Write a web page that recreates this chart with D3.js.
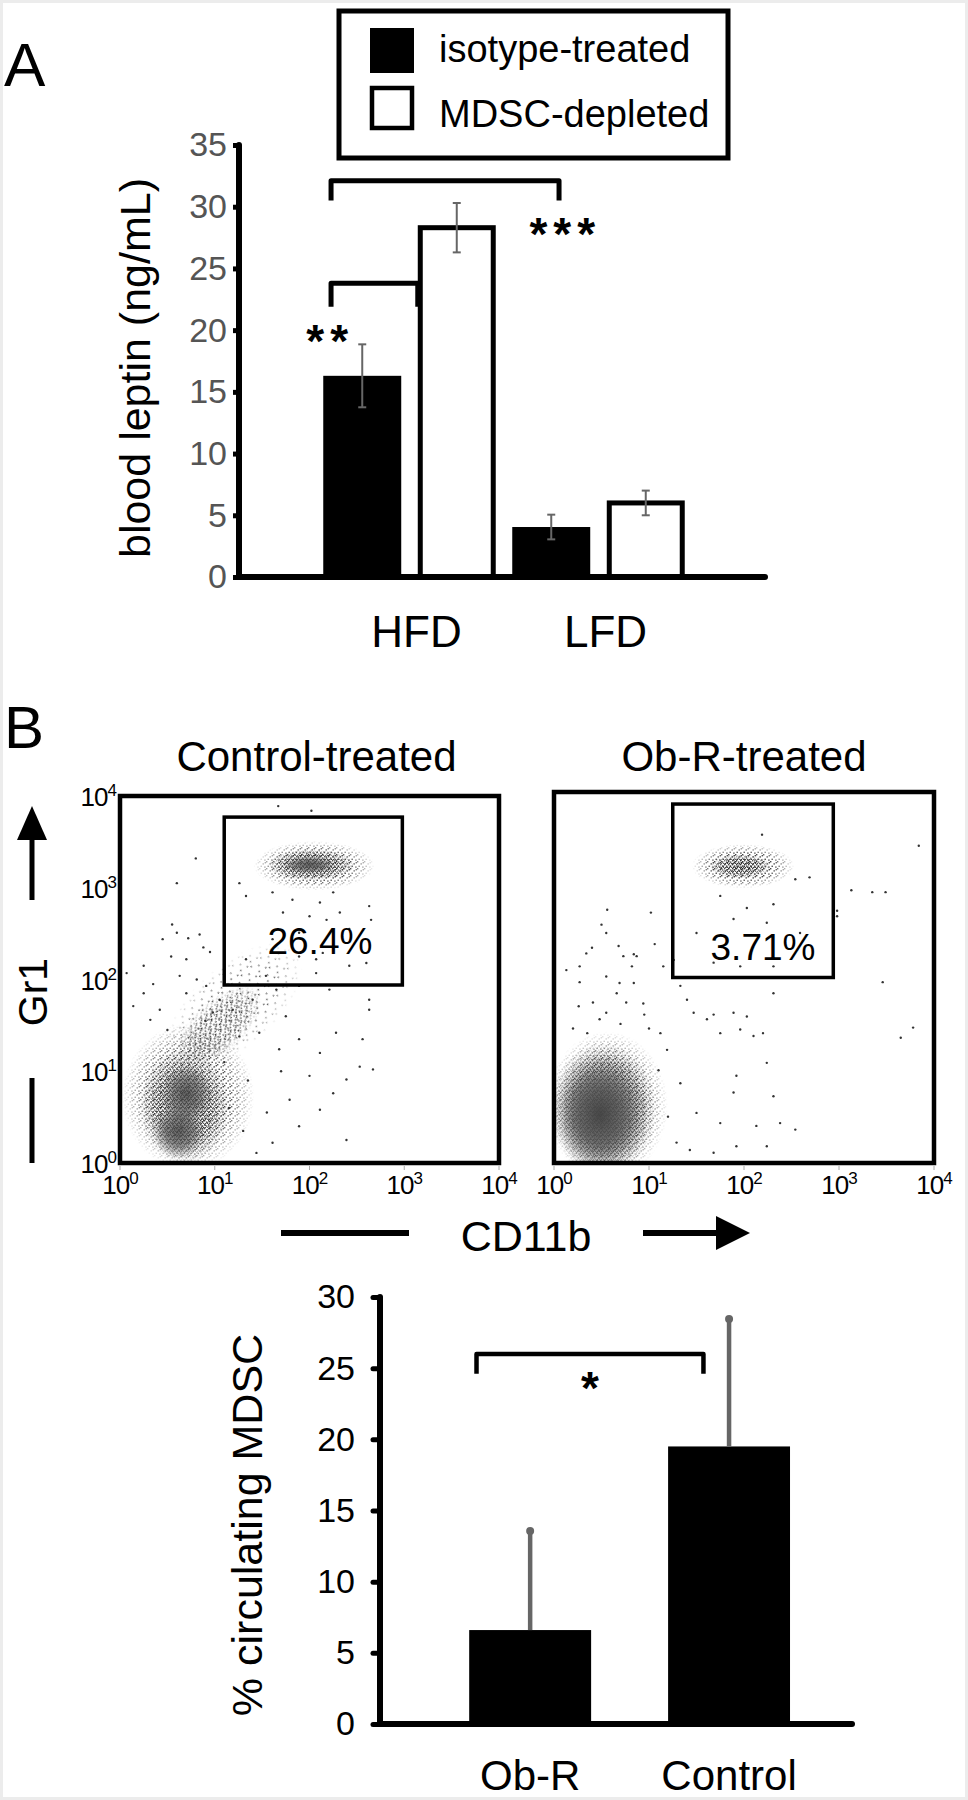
<!DOCTYPE html>
<html>
<head>
<meta charset="utf-8">
<script src="https://d3js.org/d3.v7.min.js"></script>
<style>
  body { margin: 0; background: #fff; }
  text { font-family: "Liberation Sans", Arial, sans-serif; }
</style>
</head>
<body>
<svg id="fig" width="968" height="1800"></svg>
<script>
// ---------- panel A: blood leptin ----------
var dietGroups = ["HFD", "LFD"];
var treatments = ["isotype-treated", "MDSC-depleted"];
var leptinMeans = [[16.3, 28.3], [4.05, 6.0]];
var leptinErrors = [[2.55, 2.0], [1.0, 1.0]];
var leptinTicks = [0, 5, 10, 15, 20, 25, 30, 35];
// [from bar, fraction in bar, to bar, fraction, top value, leg value]
var leptinBrackets = [[0, 0.1, 2, 0.6, 32.1, 30.5], [0, 0.1, 1, 0.0, 23.8, 21.9]];
// [label, bar, fraction, value]
var leptinStars = [["**", 0, 0.09, 20.0], ["***", 2, 0.68, 28.7]];

// ---------- panel B: flow plots (log10 units) ----------
var flowTitles = ["Control-treated", "Ob-R-treated"];
var gatePercent = ["26.4%", "3.71%"];
var gatePercentAt = [[2.11, 2.42], [2.2, 2.33]];
var decades = [0, 1, 2, 3, 4];
// gate [x0, x1, y0, y1]
var gates = [[1.1, 2.98, 1.94, 3.77], [1.25, 2.94, 2.0, 3.87]];
// clusters [cx, cy, rx, ry, level, tilt]  level 0 faint, 1 sparse, 2 dense, 3 core
var controlClusters = [
  [0.72, 0.72, 0.7, 0.8, 1, 0], [0.68, 0.62, 0.47, 0.62, 2, 0],
  [0.7, 0.75, 0.27, 0.32, 3, 0], [0.62, 0.35, 0.27, 0.3, 3, 0],
  [1.2, 1.7, 0.9, 0.45, 0, 42], [1.05, 1.5, 0.55, 0.28, 1, 42],
  [2.05, 3.24, 0.64, 0.27, 1, 0], [2.02, 3.25, 0.46, 0.17, 2, 0], [2.0, 3.25, 0.28, 0.1, 3, 0]
];
var obrClusters = [
  [0.56, 0.62, 0.64, 0.8, 1, 0], [0.52, 0.58, 0.56, 0.71, 2, 0],
  [0.5, 0.55, 0.5, 0.64, 3, 0], [0.48, 0.52, 0.4, 0.52, 3, 0],
  [1.99, 3.2, 0.54, 0.24, 1, 0], [1.96, 3.2, 0.32, 0.13, 2, 0]
];
var controlDots = [
  [1.67, 3.89], [2.02, 3.84], [0.8, 3.32], [0.6, 3.05], [1.26, 3.05], [1.33, 2.91], [0.45, 2.44],
  [0.6, 2.51], [0.84, 2.49], [0.72, 2.45], [0.88, 2.35], [0.54, 2.25], [0.7, 2.22], [0.25, 2.15],
  [0.07, 2.07], [0.63, 2.04], [0.81, 2.0], [0.25, 1.85], [0.14, 1.71], [0.42, 1.67], [0.32, 1.56],
  [0.7, 1.85], [0.91, 1.93], [1.05, 1.78], [0.98, 1.64], [1.19, 1.67], [1.4, 1.78], [1.54, 2.04],
  [1.65, 1.89], [1.89, 1.93], [2.07, 2.07], [2.21, 1.89], [2.42, 2.15], [2.63, 1.78], [2.63, 1.67],
  [1.26, 1.38], [1.47, 1.42], [1.68, 1.24], [1.89, 1.35], [2.11, 1.2], [2.28, 1.42], [2.39, 0.91],
  [2.53, 1.05], [2.67, 1.02], [2.25, 0.76], [2.11, 0.58], [1.89, 0.4], [2.39, 0.25], [1.61, 0.22],
  [1.44, 0.11], [1.79, 0.69], [2.56, 1.35], [1.33, 2.22], [1.61, 2.44], [2.65, 2.65], [2.63, 2.8],
  [2.32, 2.73], [2.07, 2.22], [2.6, 2.18], [1.61, 2.95], [1.82, 2.87], [2.11, 2.84], [2.25, 2.95],
  [1.72, 2.73], [2.0, 2.69], [2.18, 2.65], [1.89, 2.51], [2.42, 2.55], [1.61, 2.29], [1.89, 2.25],
  [2.14, 2.29], [0.55, 2.6], [0.95, 2.3], [0.35, 1.95], [0.5, 1.45], [1.1, 1.1], [1.35, 0.9],
  [1.55, 0.55], [1.7, 1.0], [2.0, 0.95], [1.3, 0.35], [1.15, 0.6], [0.9, 1.55], [1.75, 1.6]
];
var obrDots = [
  [2.19, 3.54], [3.84, 3.42], [3.13, 2.94], [3.35, 2.92], [3.49, 2.92], [2.98, 2.72], [2.98, 2.66],
  [2.69, 3.08], [2.54, 3.06], [0.56, 2.73], [1.02, 2.7], [0.55, 2.48], [0.5, 2.57], [1.06, 2.36],
  [0.4, 2.32], [0.34, 2.26], [0.13, 2.08], [0.27, 2.12], [0.68, 2.34], [0.73, 2.23], [0.84, 2.25],
  [0.87, 2.23], [0.82, 2.12], [0.27, 1.95], [0.55, 2.01], [0.69, 1.94], [0.66, 1.83], [0.84, 1.94],
  [0.76, 1.73], [0.94, 1.72], [0.41, 1.73], [0.26, 1.69], [0.48, 1.55], [0.55, 1.62], [1.15, 2.12],
  [1.26, 2.19], [1.33, 1.91], [1.4, 1.76], [1.47, 1.62], [1.61, 1.55], [1.68, 1.6], [1.75, 1.4],
  [1.89, 1.62], [1.96, 1.44], [2.03, 1.58], [2.2, 1.4], [2.31, 1.83], [2.1, 1.37], [2.24, 1.08],
  [1.92, 0.94], [1.89, 0.76], [1.75, 0.43], [2.13, 0.4], [2.31, 0.72], [2.38, 0.43], [2.54, 0.36],
  [2.24, 0.18], [1.92, 0.18], [1.68, 0.11], [1.43, 0.14], [1.29, 0.22], [3.46, 1.95], [3.78, 1.46],
  [3.65, 1.35], [1.12, 1.4], [1.19, 1.22], [1.33, 0.86], [1.5, 0.54], [1.75, 2.88], [2.03, 2.75],
  [2.31, 2.79], [1.89, 2.63], [2.24, 2.59], [1.5, 2.48], [2.59, 2.48], [1.68, 2.16], [1.96, 2.12],
  [2.31, 2.12], [0.2, 1.45], [0.7, 1.5], [1.0, 1.45], [1.1, 1.0], [1.2, 0.5], [0.95, 1.6], [0.35, 1.4]
];

// ---------- panel B: circulating MDSC ----------
var mdscGroups = ["Ob-R", "Control"];
var mdscMeans = [6.6, 19.5];
var mdscErrors = [6.96, 8.96];
var mdscTicks = [0, 5, 10, 15, 20, 25, 30];

var svg = d3.select("#fig");
var defs = svg.append("defs");

svg.append("rect").attr("width", 968).attr("height", 1800).attr("fill", "#fff")
  .attr("stroke", "#ececec").attr("stroke-width", 6);

// ===== Panel A =====
svg.append("text").attr("x", 4).attr("y", 86).style("font-size", "62px").text("A");

var yA = d3.scaleLinear().domain([0, 35]).range([577, 145]);
var x0A = d3.scaleBand().domain(dietGroups).range([315, 693]);
var x1A = d3.scaleBand().domain(treatments).range([0, x0A.bandwidth()])
  .paddingInner(0.175).paddingOuter(0.0873);

var bars = [];
dietGroups.forEach(function(g, gi) {
  treatments.forEach(function(t, ti) {
    bars.push({g: g, t: t, ti: ti, v: leptinMeans[gi][ti], e: leptinErrors[gi][ti],
      x: x0A(g) + x1A(t)});
  });
});
var bw = x1A.bandwidth();
function barX(i, f) { return bars[i].x + f * bw; }

var gA = svg.append("g");
gA.selectAll("rect.bar").data(bars).enter().append("rect")
  .attr("x", function(d) { return d.ti ? d.x + 2.5 : d.x; })
  .attr("y", function(d) { return yA(d.v); })
  .attr("width", function(d) { return d.ti ? bw - 5 : bw; })
  .attr("height", function(d) { return yA(0) - yA(d.v); })
  .attr("fill", function(d) { return d.ti ? "#fff" : "#000"; })
  .attr("stroke", function(d) { return d.ti ? "#000" : "none"; })
  .attr("stroke-width", 5);

var eb = gA.selectAll("g.err").data(bars).enter().append("g").attr("stroke", "#666").attr("stroke-width", 2);
eb.append("line")
  .attr("x1", function(d) { return d.x + bw / 2; }).attr("x2", function(d) { return d.x + bw / 2; })
  .attr("y1", function(d) { return yA(d.v - d.e); }).attr("y2", function(d) { return yA(d.v + d.e); });
[-1, 1].forEach(function(s) {
  eb.append("line")
    .attr("x1", function(d) { return d.x + bw / 2 - 4; }).attr("x2", function(d) { return d.x + bw / 2 + 4; })
    .attr("y1", function(d) { return yA(d.v + s * d.e); }).attr("y2", function(d) { return yA(d.v + s * d.e); });
});

// axis A
var axA = svg.append("g").attr("transform", "translate(239,0)")
  .call(d3.axisLeft(yA).tickValues(leptinTicks).tickSize(6).tickSizeOuter(0).tickPadding(6));
axA.select(".domain").remove();
axA.selectAll(".tick line").attr("stroke", "#000").attr("stroke-width", 5);
axA.selectAll(".tick text").attr("fill", "#555").style("font-size", "34px");
svg.append("line").attr("x1", 239).attr("x2", 239).attr("y1", yA(35)).attr("y2", yA(0))
  .attr("stroke", "#000").attr("stroke-width", 6).attr("stroke-linecap", "round");
svg.append("line").attr("x1", 239).attr("x2", 765).attr("y1", yA(0)).attr("y2", yA(0))
  .attr("stroke", "#000").attr("stroke-width", 6).attr("stroke-linecap", "round");

svg.selectAll("text.diet").data(dietGroups).enter().append("text")
  .attr("x", function(d) { return x0A(d) + x0A.bandwidth() / 2 + 7; })
  .attr("y", 647).attr("text-anchor", "middle").style("font-size", "44px").text(function(d) { return d; });

svg.append("text").attr("transform", "translate(150,368) rotate(-90)")
  .attr("text-anchor", "middle").style("font-size", "43px").text("blood leptin (ng/mL)");

// brackets and stars
svg.selectAll("path.brA").data(leptinBrackets).enter().append("path")
  .attr("d", function(b) {
    var xa = barX(b[0], b[1]), xb = barX(b[2], b[3]);
    return "M" + xa + "," + yA(b[5]) + "V" + yA(b[4]) + "H" + xb + "V" + yA(b[5]);
  })
  .attr("fill", "none").attr("stroke", "#000").attr("stroke-width", 5).attr("stroke-linejoin", "round");
svg.selectAll("text.starA").data(leptinStars).enter().append("text")
  .attr("x", function(s) { return barX(s[1], s[2]); })
  .attr("y", function(s) { return yA(s[3]) + 27; })
  .attr("text-anchor", "middle").style("font-size", "46px").style("font-weight", "bold")
  .style("letter-spacing", "6px").text(function(s) { return s[0]; });

// legend
var leg = svg.append("g");
leg.append("rect").attr("x", 339).attr("y", 11).attr("width", 389).attr("height", 147)
  .attr("fill", "#fff").attr("stroke", "#000").attr("stroke-width", 5);
treatments.forEach(function(t, i) {
  leg.append("rect").attr("x", i ? 372 : 370).attr("y", i ? 88 : 28)
    .attr("width", i ? 40 : 44).attr("height", i ? 40 : 45)
    .attr("fill", i ? "#fff" : "#000").attr("stroke", i ? "#000" : "none").attr("stroke-width", 4.5);
  leg.append("text").attr("x", 439).attr("y", i ? 127 : 62).style("font-size", "38px").text(t);
});

// ===== Panel B: flow plots =====
svg.append("text").attr("x", 4).attr("y", 748).style("font-size", "60px").text("B");

// speckle fills and fades for dense populations
var fade = defs.append("radialGradient").attr("id", "fadeGrad");
fade.append("stop").attr("offset", "0%").attr("stop-color", "#fff");
fade.append("stop").attr("offset", "60%").attr("stop-color", "#fff").attr("stop-opacity", 0.85);
fade.append("stop").attr("offset", "100%").attr("stop-color", "#fff").attr("stop-opacity", 0);
defs.append("mask").attr("id", "fadeMask").attr("maskContentUnits", "objectBoundingBox")
  .append("rect").attr("width", 1).attr("height", 1).attr("fill", "url(#fadeGrad)");
function speckle(id, size, spots) {
  var p = defs.append("pattern").attr("id", id).attr("patternUnits", "userSpaceOnUse")
    .attr("width", size).attr("height", size);
  spots.forEach(function(s) {
    p.append("rect").attr("x", s[0]).attr("y", s[1]).attr("width", 1.4).attr("height", 1.4).attr("fill", "#2a2a2a");
  });
}
speckle("speckleFaint", 13, [[0, 0], [6.5, 4.2], [2.8, 8.9], [10.1, 10.6]]);
speckle("speckleLight", 7, [[0, 0], [3.5, 2.2], [1.5, 4.6], [5.2, 5.4], [5.6, 1.0]]);
speckle("speckleDense", 4, [[0, 0], [2, 1.4], [0.7, 2.9], [2.9, 3.1]]);
var core = defs.append("radialGradient").attr("id", "coreGrad");
core.append("stop").attr("offset", "0%").attr("stop-color", "#444").attr("stop-opacity", 0.85);
core.append("stop").attr("offset", "55%").attr("stop-color", "#555").attr("stop-opacity", 0.6);
core.append("stop").attr("offset", "100%").attr("stop-color", "#666").attr("stop-opacity", 0);
var fills = ["url(#speckleFaint)", "url(#speckleLight)", "url(#speckleDense)", "url(#coreGrad)"];

var frames = [{x: 120, y: 796, w: 379, h: 367}, {x: 554, y: 792, w: 380, h: 371}];
var allClusters = [controlClusters, obrClusters];
var allDots = [controlDots, obrDots];

frames.forEach(function(f, k) {
  var xs = d3.scaleLinear().domain([0, 4]).range([f.x, f.x + f.w]);
  var ys = d3.scaleLinear().domain([0, 4]).range([f.y + f.h, f.y]);
  var g = svg.append("g");
  defs.append("clipPath").attr("id", "clip" + k).append("rect")
    .attr("x", f.x).attr("y", f.y).attr("width", f.w).attr("height", f.h);
  var pts = g.append("g").attr("clip-path", "url(#clip" + k + ")");

  pts.selectAll("ellipse").data(allClusters[k]).enter().append("ellipse")
    .attr("cx", function(c) { return xs(c[0]); }).attr("cy", function(c) { return ys(c[1]); })
    .attr("rx", function(c) { return xs(c[2]) - xs(0); }).attr("ry", function(c) { return ys(0) - ys(c[3]); })
    .attr("transform", function(c) { return "rotate(" + (-c[5]) + "," + xs(c[0]) + "," + ys(c[1]) + ")"; })
    .attr("fill", function(c) { return fills[c[4]]; })
    .attr("mask", function(c) { return c[4] === 3 ? null : "url(#fadeMask)"; });

  pts.selectAll("circle").data(allDots[k]).enter().append("circle")
    .attr("cx", function(d) { return xs(d[0]); }).attr("cy", function(d) { return ys(d[1]); })
    .attr("r", 1.2).attr("fill", "#333");

  // gate
  var gt = gates[k];
  g.append("rect").attr("x", xs(gt[0])).attr("y", ys(gt[3]))
    .attr("width", xs(gt[1]) - xs(gt[0])).attr("height", ys(gt[2]) - ys(gt[3]))
    .attr("fill", "none").attr("stroke", "#000").attr("stroke-width", 3.5);
  g.append("text").attr("x", xs(gatePercentAt[k][0])).attr("y", ys(gatePercentAt[k][1]) + 13)
    .attr("text-anchor", "middle").style("font-size", "37px").text(gatePercent[k]);

  // frame
  g.append("rect").attr("x", f.x).attr("y", f.y).attr("width", f.w).attr("height", f.h)
    .attr("fill", "none").attr("stroke", "#000").attr("stroke-width", 4.5);

  // small decade ticks on the x side
  g.selectAll("line.dt").data(decades).enter().append("line")
    .attr("x1", function(d) { return xs(d); }).attr("x2", function(d) { return xs(d); })
    .attr("y1", f.y + f.h + 3).attr("y2", f.y + f.h + 7).attr("stroke", "#aaa").attr("stroke-width", 1);

  var xl = g.selectAll("text.xt").data(decades).enter().append("text")
    .attr("x", function(d) { return xs(d); }).attr("y", 1194)
    .attr("text-anchor", "middle").style("font-size", "26px").style("letter-spacing", "-1px");
  xl.append("tspan").text("10");
  xl.append("tspan").attr("dy", -10).style("font-size", "17px").text(function(d) { return d; });

  if (k === 0) {
    var yl = g.selectAll("text.yt").data(decades).enter().append("text")
      .attr("x", 116).attr("y", function(d) { return ys(d) + 10; })
      .attr("text-anchor", "end").style("font-size", "26px").style("letter-spacing", "-1px");
    yl.append("tspan").text("10");
    yl.append("tspan").attr("dy", -10).style("font-size", "17px").text(function(d) { return d; });
  }

  svg.append("text").attr("x", f.x + f.w / 2 + (k ? 0 : 7)).attr("y", 771)
    .attr("text-anchor", "middle").style("font-size", "42px").text(flowTitles[k]);
});

// Gr1 and CD11b arrows
svg.append("line").attr("x1", 32).attr("x2", 32).attr("y1", 838).attr("y2", 900)
  .attr("stroke", "#000").attr("stroke-width", 5);
svg.append("path").attr("d", "M17,840 L32,806 L47,840 Z").attr("fill", "#000");
svg.append("line").attr("x1", 32).attr("x2", 32).attr("y1", 1078).attr("y2", 1163)
  .attr("stroke", "#000").attr("stroke-width", 5);
svg.append("text").attr("transform", "translate(47,992) rotate(-90)")
  .attr("text-anchor", "middle").style("font-size", "41px").text("Gr1");

svg.append("line").attr("x1", 281).attr("x2", 409).attr("y1", 1233).attr("y2", 1233)
  .attr("stroke", "#000").attr("stroke-width", 6);
svg.append("line").attr("x1", 643).attr("x2", 718).attr("y1", 1233).attr("y2", 1233)
  .attr("stroke", "#000").attr("stroke-width", 6);
svg.append("path").attr("d", "M716,1216 L750,1233 L716,1250 Z").attr("fill", "#000");
svg.append("text").attr("x", 526).attr("y", 1251).attr("text-anchor", "middle")
  .style("font-size", "43px").text("CD11b");

// ===== Panel B: MDSC bars =====
var yB = d3.scaleLinear().domain([0, 30]).range([1724, 1297]);
var xB = d3.scaleBand().domain(mdscGroups).range([380, 852])
  .paddingInner(0.387).paddingOuter(0.38).align(0.59);

svg.selectAll("rect.mb").data(mdscGroups).enter().append("rect")
  .attr("x", function(d) { return xB(d); })
  .attr("y", function(d, i) { return yB(mdscMeans[i]); })
  .attr("width", xB.bandwidth())
  .attr("height", function(d, i) { return yB(0) - yB(mdscMeans[i]); })
  .attr("fill", "#000");

var ebB = svg.selectAll("g.eb").data(mdscGroups).enter().append("g");
ebB.append("line")
  .attr("x1", function(d) { return xB(d) + xB.bandwidth() / 2; })
  .attr("x2", function(d) { return xB(d) + xB.bandwidth() / 2; })
  .attr("y1", function(d, i) { return yB(mdscMeans[i]); })
  .attr("y2", function(d, i) { return yB(mdscMeans[i] + mdscErrors[i]); })
  .attr("stroke", "#666").attr("stroke-width", 4.5);
ebB.append("circle")
  .attr("cx", function(d) { return xB(d) + xB.bandwidth() / 2; })
  .attr("cy", function(d, i) { return yB(mdscMeans[i] + mdscErrors[i]); })
  .attr("r", 4).attr("fill", "#666");

var axB = svg.append("g").attr("transform", "translate(380,0)")
  .call(d3.axisLeft(yB).tickValues(mdscTicks).tickSize(7).tickSizeOuter(0).tickPadding(18));
axB.select(".domain").remove();
axB.selectAll(".tick line").attr("stroke", "#000").attr("stroke-width", 5).attr("stroke-linecap", "round");
axB.selectAll(".tick text").attr("fill", "#000").style("font-size", "34px");
svg.append("line").attr("x1", 380).attr("x2", 380).attr("y1", yB(30)).attr("y2", yB(0))
  .attr("stroke", "#000").attr("stroke-width", 6).attr("stroke-linecap", "round");
svg.append("line").attr("x1", 380).attr("x2", 852).attr("y1", yB(0)).attr("y2", yB(0))
  .attr("stroke", "#000").attr("stroke-width", 6).attr("stroke-linecap", "round");

svg.selectAll("text.mg").data(mdscGroups).enter().append("text")
  .attr("x", function(d) { return xB(d) + xB.bandwidth() / 2; })
  .attr("y", 1790).attr("text-anchor", "middle").style("font-size", "42px").text(function(d) { return d; });

svg.append("text").attr("transform", "translate(262,1525) rotate(-90)")
  .attr("text-anchor", "middle").style("font-size", "43px").text("% circulating MDSC");

// bracket with star
var bx0 = xB("Ob-R") + 0.06 * xB.bandwidth(), bx1 = xB("Control") + 0.29 * xB.bandwidth();
svg.append("path")
  .attr("d", "M" + bx0 + "," + yB(24.6) + "V" + yB(26.0) + "H" + bx1 + "V" + yB(24.6))
  .attr("fill", "none").attr("stroke", "#000").attr("stroke-width", 4.5).attr("stroke-linejoin", "round");
svg.append("text").attr("x", (bx0 + bx1) / 2).attr("y", yB(24.3) + 26)
  .attr("text-anchor", "middle").style("font-size", "46px").style("font-weight", "bold").text("*");
</script>
</body>
</html>
